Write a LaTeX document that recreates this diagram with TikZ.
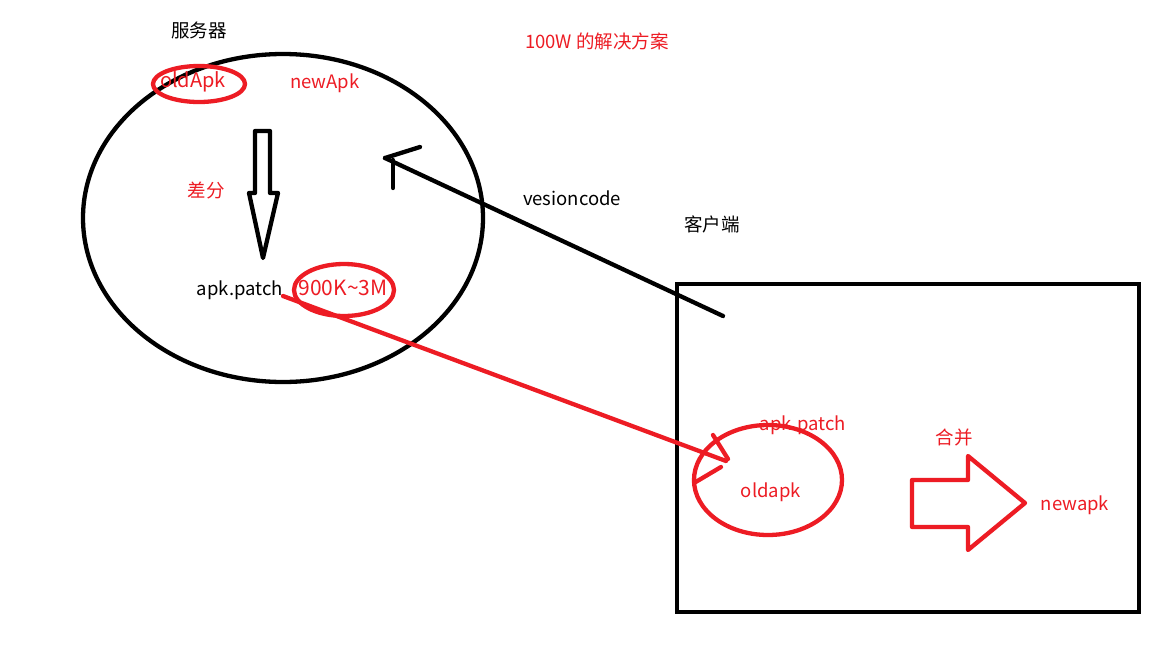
\documentclass[tikz,border=0pt]{standalone}
\usepackage{fontspec}
\setmainfont{Noto Sans CJK SC}
\definecolor{pred}{RGB}{237,28,36}
\begin{document}
\begin{tikzpicture}[x=1pt,y=-1pt,
  lbl/.style={inner sep=0pt,font=\fontsize{18.5}{20}\selectfont},
  rlbl/.style={lbl,text=pred},
  biglbl/.style={rlbl,font=\fontsize{21}{23}\selectfont},
  bstroke/.style={draw=black,line width=4.3pt,line cap=round,line join=round},
  rstroke/.style={draw=pred,line width=4.3pt,line cap=round,line join=round}]
\useasboundingbox[fill=white] (0,0) rectangle (1152,648);
% server ellipse
\draw[bstroke] (283,218) ellipse [x radius=200,y radius=164];
\node[lbl] (server) at (199,30) {服务器};
\node[rlbl] (title) at (597,41) {100W 的解决方案};
\node[rlbl,font=\fontsize{20}{22}\selectfont] (oldApk) at (193,82) {oldApk};
\draw[rstroke] (199,84) ellipse [x radius=46,y radius=18];
\node[rlbl] (newApk) at (325,83) {newApk};
\node[rlbl] (diff) at (206,190) {差分};
% hollow down arrow
\draw[bstroke] (255,131) -- (270,131) -- (270,193) -- (278,193) -- (263,258) -- (249,193) -- (255,193) -- cycle;
\node[lbl] (patch) at (240,290) {apk.patch};
\node[biglbl] (size) at (343,288) {900K\string~3M};
\draw[rstroke] (344,290) ellipse [x radius=50,y radius=26];
% versioncode arrow
\coordinate (vtail) at (723,316);
\coordinate (vtip) at (385,158);
\draw[bstroke] (vtail) -- (vtip);
\draw[bstroke] (vtip) -- (420,147);
\draw[bstroke] (393,160) -- (393,188);
\node[lbl] (vc) at (572,198) {vesioncode};
\node[lbl] (client) at (712,224) {客户端};
% client rectangle
\draw[draw=black,line width=4.3pt] (677,284) rectangle (1139,612);
% red arrow
\coordinate (ptail) at (283,296);
\coordinate (ptip) at (726,461);
\draw[rstroke] (ptail) -- (ptip);
\draw[rstroke] (713,435) -- (728,459);
\draw[rstroke] (721,467) -- (694,483);
\draw[rstroke] (768,480) ellipse [x radius=74,y radius=55];
\node[rlbl] (patch2) at (803,425) {apk.patch};
\node[rlbl] (oldapk) at (771,492) {oldapk};
\node[rlbl] (merge) at (954,438) {合并};
% hollow right arrow
\draw[rstroke] (912,480) -- (968,480) -- (968,456) -- (1025,503) -- (968,550) -- (968,527) -- (912,527) -- cycle;
\node[rlbl] (newapk) at (1075,505) {newapk};
\end{tikzpicture}
\end{document}
